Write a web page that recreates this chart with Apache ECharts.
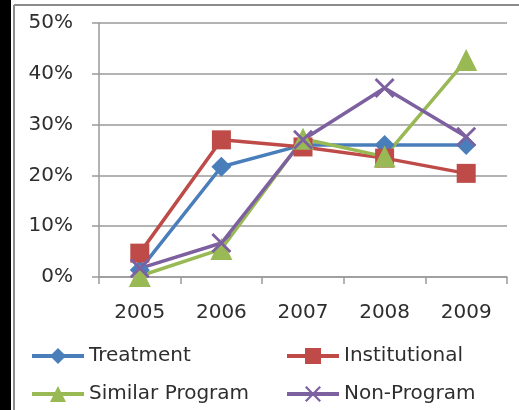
<!DOCTYPE html>
<html><head><meta charset="utf-8">
<script src="https://cdn.jsdelivr.net/npm/echarts@6/dist/echarts.min.js"></script>
<style>html,body{margin:0;padding:0;background:#fff}#c{width:519px;height:410px}</style>
</head><body><div id="c"></div>
<script>
const categories = ['2005','2006','2007','2008','2009'];
const treatment = [0.014, 0.217, 0.26, 0.26, 0.26];
const institutional = [0.047, 0.27, 0.256, 0.234, 0.204];
const similarProgram = [0.002, 0.055, 0.272, 0.237, 0.427];
const nonProgram = [0.017, 0.067, 0.27, 0.372, 0.276];
const seriesNames = ['Treatment','Institutional','Similar Program','Non-Program'];
const yTicks = [0, 0.1, 0.2, 0.3, 0.4, 0.5];

const colors = ['#4a7ebb','#be4b48','#98b954','#7d60a0'];
const crossPath = 'path://M2,0L10,8L18,0L20,2L12,10L20,18L18,20L10,12L2,20L0,18L8,10L0,2Z';
const symbols = ['diamond','rect','triangle',crossPath];
const sizes = [20,19,22,20];
const dataSets = [treatment, institutional, similarProgram, nonProgram];
const font = 'DejaVu Sans';
const textColor = '#2e2e2e';

const chart = echarts.init(document.getElementById('c'), null, {renderer:'canvas'});
const legendBase = {
  orient:'vertical', top: 346, itemWidth: 52, itemHeight: 20, itemGap: 18,
  lineStyle:{width:4},
  textStyle:{fontFamily:font, fontSize:20, color:textColor},
  padding:0
};
chart.setOption({
  animation:false,
  color: colors,
  graphic:[
    {type:'rect', shape:{x:0,y:0,width:11,height:410}, style:{fill:'#000'}},
    {type:'line', shape:{x1:14,y1:5,x2:519,y2:5}, style:{stroke:'#8c8c8c', lineWidth:2}},
    {type:'line', shape:{x1:14,y1:5,x2:14,y2:410}, style:{stroke:'#8c8c8c', lineWidth:2}}
  ],
  grid:{left:99, right:12, top:23, bottom:133, containLabel:false},
  legend:[
    Object.assign({left:30, data:[seriesNames[0], seriesNames[2]]}, legendBase),
    Object.assign({left:285, data:[seriesNames[1], seriesNames[3]]}, legendBase)
  ],
  xAxis:{
    type:'category', data:categories, boundaryGap:true,
    axisLine:{lineStyle:{color:'#9a9a9a', width:1.5}},
    axisTick:{show:true, length:7, alignWithLabel:false, lineStyle:{color:'#9a9a9a', width:1.5}},
    axisLabel:{fontFamily:font, fontSize:20, color:textColor, margin:26}
  },
  yAxis:{
    type:'value', min:0, max:0.5, interval:0.1,
    axisLine:{show:true, lineStyle:{color:'#9a9a9a', width:1.5}},
    axisTick:{show:true, length:7, lineStyle:{color:'#9a9a9a', width:1.5}},
    splitLine:{lineStyle:{color:'#9a9a9a', width:1.5}},
    axisLabel:{fontFamily:font, fontSize:20, color:textColor, margin:26,
      formatter:v => Math.round(v*100)+'%'}
  },
  series: seriesNames.map((n,i)=>({
    name:n, type:'line', data:dataSets[i],
    symbol:symbols[i], symbolSize:sizes[i], showAllSymbol:true,
    lineStyle:{width:3.5, color:colors[i]},
    itemStyle:{color:colors[i]}
  }))
});
</script>
</body></html>
